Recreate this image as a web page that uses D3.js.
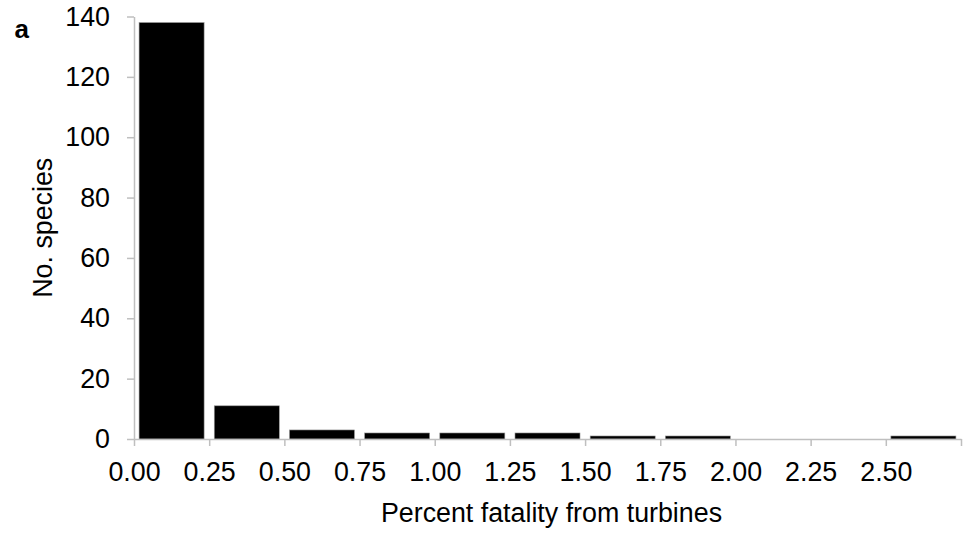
<!DOCTYPE html>
<html>
<head>
<meta charset="utf-8">
<script src="https://cdn.jsdelivr.net/npm/d3@7"></script>
<style>
  body { margin: 0; background: #fff; }
  text { font-family: "Liberation Sans", Arial, sans-serif; fill: #000; }
</style>
</head>
<body>
<svg width="972" height="533"></svg>
<script>
// bins of percent fatality (lower edge), counts of species
const binStarts = [0, 0.25, 0.5, 0.75, 1.0, 1.25, 1.5, 1.75, 2.0, 2.25, 2.5];
const counts = [138, 11, 3, 2, 2, 2, 1, 1, 0, 0, 1];
const xTickLabels = ["0.00", "0.25", "0.50", "0.75", "1.00", "1.25", "1.50", "1.75", "2.00", "2.25", "2.50"];
const yTicks = [0, 20, 40, 60, 80, 100, 120, 140];

let plotLeft = 134, plotRight = 961, plotTop = 16.5, plotBottom = 439;
let axisColor = "#bfbfbf";
let fontSize = "26.8px";

let svg = d3.select("svg");

let xScale = d3.scaleBand()
    .domain(d3.range(binStarts.length))
    .range([plotLeft, plotRight])
    .paddingInner(0.135)
    .paddingOuter(0.0675);

let yScale = d3.scaleLinear()
    .domain([0, 140])
    .range([plotBottom, plotTop]);

// bars
svg.append("g")
    .selectAll("rect")
    .data(counts)
    .enter()
    .append("rect")
    .attr("x", (d, i) => xScale(i))
    .attr("width", xScale.bandwidth())
    .attr("y", d => yScale(d))
    .attr("height", d => plotBottom - yScale(d))
    .attr("fill", "#000")
    .attr("stroke", "#9a9a9a")
    .attr("stroke-width", 0.6)
    .attr("display", d => d > 0 ? null : "none");

/// y axis ///
let yAxis = svg.append("g")
    .attr("transform", `translate(${plotLeft},0)`)
    .call(d3.axisLeft(yScale).tickValues(yTicks).tickSize(7).tickPadding(17).tickSizeOuter(0));
yAxis.select(".domain").attr("stroke", axisColor).attr("stroke-width", 1.5);
yAxis.selectAll(".tick line").attr("stroke", axisColor).attr("stroke-width", 1.5);
yAxis.selectAll("text").style("font-size", fontSize).attr("fill", "#000");

/// x axis: ticks on bin edges ///
let edgeScale = d3.scaleLinear()
    .domain([0, binStarts.length])
    .range([plotLeft, plotRight]);

let xAxis = svg.append("g")
    .attr("transform", `translate(0,${plotBottom})`)
    .call(d3.axisBottom(edgeScale).tickValues(d3.range(binStarts.length + 1)).tickSize(7).tickSizeOuter(0)
        .tickFormat((d, i) => xTickLabels[i] || ""));
xAxis.select(".domain").attr("stroke", axisColor).attr("stroke-width", 1.5);
xAxis.selectAll(".tick line").attr("stroke", axisColor).attr("stroke-width", 1.5);
xAxis.selectAll("text").style("font-size", fontSize).attr("fill", "#000").attr("y", 23).attr("dy", "0.71em");

// axis titles
svg.append("text")
    .attr("transform", `translate(52, ${(plotTop + plotBottom) / 2}) rotate(-90)`)
    .attr("text-anchor", "middle")
    .style("font-size", fontSize)
    .text("No. species");

svg.append("text")
    .attr("x", (plotLeft + plotRight) / 2 + 4)
    .attr("y", 522)
    .attr("text-anchor", "middle")
    .style("font-size", fontSize)
    .text("Percent fatality from turbines");

// panel letter
svg.append("text")
    .attr("x", 14.5)
    .attr("y", 38)
    .style("font-size", "26px")
    .style("font-weight", "bold")
    .text("a");
</script>
</body>
</html>
